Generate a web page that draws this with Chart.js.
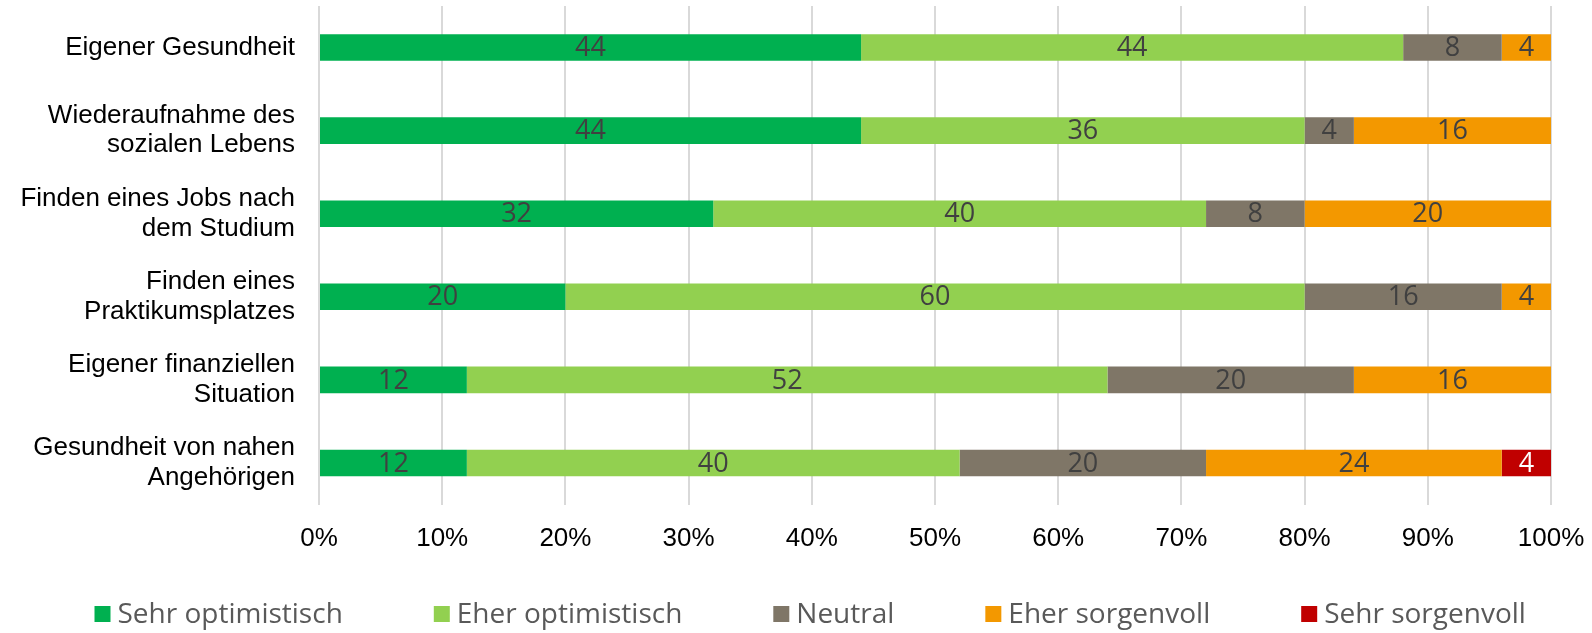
<!DOCTYPE html>
<html>
<head>
<meta charset="utf-8">
<script src="https://cdn.jsdelivr.net/npm/chart.js@4.4.1/dist/chart.umd.min.js"></script>
<style>
  html,body{margin:0;padding:0;background:#fff;}
  #wrap{width:1592px;height:633px;}
</style>
</head>
<body>
<div id="wrap"><canvas id="miGrafico" width="1592" height="633"></canvas></div>
<script>
// datos
var categorias = [
   'Eigener Gesundheit',
   ['Wiederaufnahme des', 'sozialen Lebens'],
   ['Finden eines Jobs nach', 'dem Studium'],
   ['Finden eines', 'Praktikumsplatzes'],
   ['Eigener finanziellen', 'Situation'],
   ['Gesundheit von nahen', 'Angehörigen']
];
var series = ['Sehr optimistisch', 'Eher optimistisch', 'Neutral', 'Eher sorgenvoll', 'Sehr sorgenvoll'];
var sehrOptimistisch = [44, 44, 32, 20, 12, 12];
var eherOptimistisch = [44, 36, 40, 60, 52, 40];
var neutral          = [8, 4, 8, 16, 20, 20];
var eherSorgenvoll   = [4, 16, 20, 4, 16, 24];
var sehrSorgenvoll   = [0, 0, 0, 0, 0, 4];
var ticksX = [0, 10, 20, 30, 40, 50, 60, 70, 80, 90, 100];

var colores = ['#00B050', '#92D050', '#7F7667', '#F39800', '#C00000'];
var valores = [sehrOptimistisch, eherOptimistisch, neutral, eherSorgenvoll, sehrSorgenvoll];

var fuenteCalibri = '"Open Sans", "Noto Sans", sans-serif';
var fuenteArial = '"Liberation Sans", Arial, sans-serif';

/*------------------------ etiquetas dentro de las barras --------------------------*/
var etiquetas = {
   id: 'etiquetas',
   afterDatasetsDraw: function(chart){
      var ctx = chart.ctx;
      ctx.save();
      ctx.font = '27px ' + fuenteCalibri;
      ctx.textAlign = 'center';
      ctx.textBaseline = 'middle';
      chart.data.datasets.forEach(function(ds, i){
         var meta = chart.getDatasetMeta(i);
         meta.data.forEach(function(bar, j){
            if (!ds.data[j]) return;
            ctx.fillStyle = (i === 4) ? '#ffffff' : '#404040';
            ctx.fillText(ds.data[j], (bar.x + bar.base) / 2, bar.y + 1);
         });
      });
      ctx.restore();
   }
};

/*------------------------ leyenda abajo --------------------------*/
var leyenda = {
   id: 'leyenda',
   afterDraw: function(chart){
      var ctx = chart.ctx;
      ctx.save();
      ctx.font = '28px ' + fuenteCalibri;
      ctx.textBaseline = 'middle';
      var caja = 16, hueco = 7, separa = 91, y = 614;
      var x = 94.5;
      chart.data.datasets.forEach(function(ds){
         ctx.fillStyle = ds.backgroundColor;
         ctx.fillRect(x, y - caja / 2, caja, caja);
         ctx.fillStyle = '#595959';
         ctx.fillText(ds.label, x + caja + hueco, y + 1);
         x += caja + hueco + ctx.measureText(ds.label).width + separa;
      });
      ctx.restore();
   }
};

var datasets = series.map(function(nombre, i){
   return {
      label: nombre,
      data: valores[i],
      backgroundColor: colores[i],
      borderWidth: 0,
      categoryPercentage: 1,
      barPercentage: 0.32
   };
});

var miCanvas = document.getElementById('miGrafico').getContext('2d');
var chart = new Chart(miCanvas, {
   type: 'bar',
   data: { labels: categorias, datasets: datasets },
   plugins: [etiquetas, leyenda],
   options: {
      indexAxis: 'y',
      responsive: false,
      animation: false,
      devicePixelRatio: 1,
      layout: { padding: { top: 6, right: 41, bottom: 0, left: 0 } },
      plugins: { legend: { display: false }, tooltip: { enabled: false } },
      scales: {
         x: {
            stacked: true,
            min: 0,
            max: 100,
            afterFit: function(s){
               s.height = 128.5;
               s.paddingLeft = 0;
               s.paddingRight = 0;
            },
            afterBuildTicks: function(s){ s.ticks = ticksX.map(function(v){ return {value: v}; }); },
            ticks: {
               color: '#000000',
               font: { family: fuenteArial, size: 26 },
               padding: 19,
               maxRotation: 0,
               callback: function(v){ return v + '%'; }
            },
            grid: { color: '#D9D9D9', lineWidth: 2, drawTicks: false },
            border: { display: false }
         },
         y: {
            stacked: true,
            afterFit: function(s){
               s.width = 319;
               s.paddingTop = 0;
               s.paddingBottom = 0;
            },
            ticks: {
               color: '#000000',
               font: { family: fuenteArial, size: 26, lineHeight: 1.13 },
               padding: 24
            },
            grid: { display: false, drawTicks: false },
            border: { display: false }
         }
      }
   }
});
</script>
</body>
</html>
